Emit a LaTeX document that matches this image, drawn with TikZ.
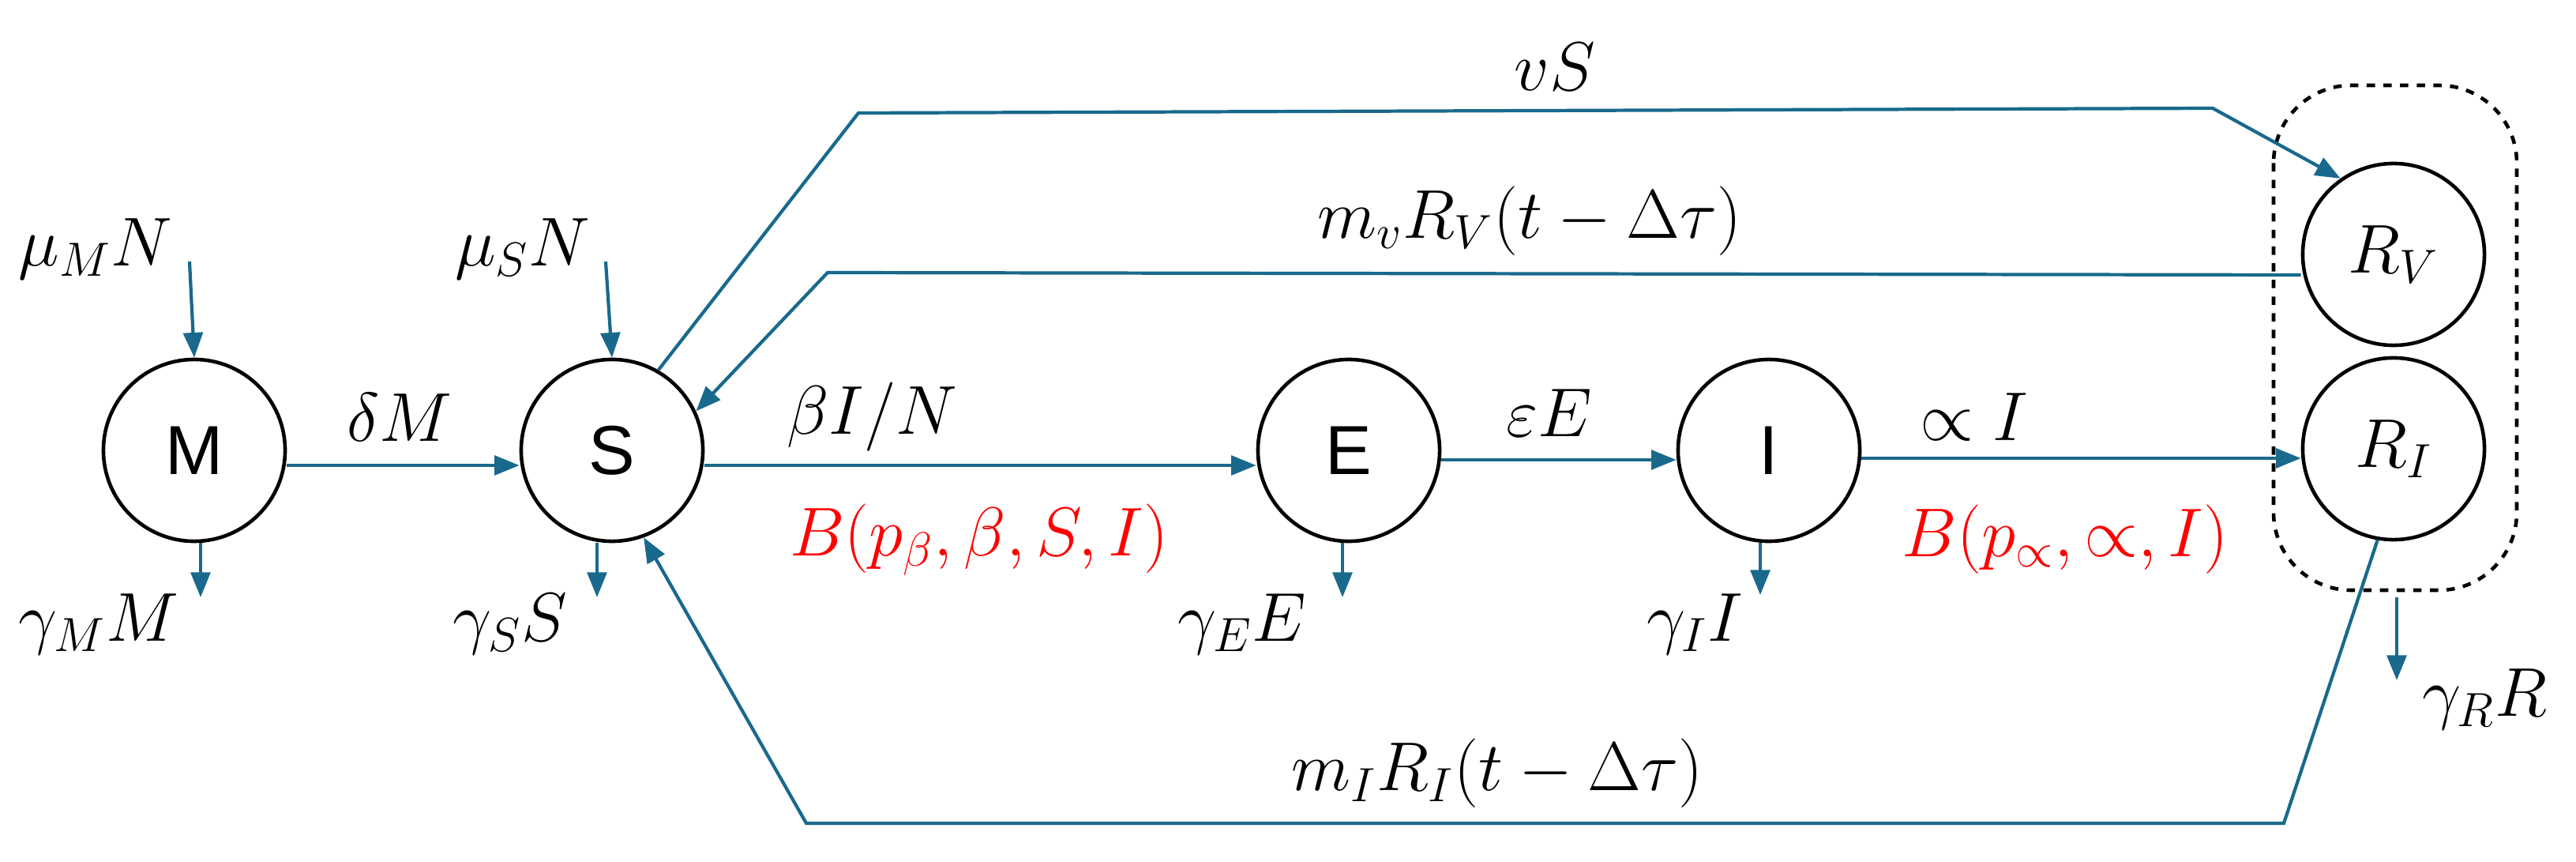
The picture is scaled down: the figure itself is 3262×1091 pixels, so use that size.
\documentclass[tikz,border=0pt]{standalone}
\usepackage{fontspec}
\setsansfont{Liberation Sans}
\usetikzlibrary{arrows.meta}
\definecolor{teal1}{RGB}{25,105,140}
\begin{document}
\begin{tikzpicture}[x=0.01cm,y=-0.01cm,
  circ/.style={circle,draw,line width=1.3pt,minimum size=2.3cm,inner sep=0pt,font=\sffamily\fontsize{25}{30}\selectfont},
  fl/.style={draw=teal1,line width=1.2pt,-{Triangle[length=9pt,width=7pt]}},
  lb/.style={font=\fontsize{24}{28}\selectfont},
  rl/.style={lb,text=red}]
\useasboundingbox (0,0) rectangle (3262,1091);
\node[circ] (M) at (246,570) {M};
\node[circ] (S) at (775,570) {S};
\node[circ] (E) at (1708,570) {E};
\node[circ] (I) at (2240,570) {I};
\node[circ,font=\fontsize{25}{30}\selectfont] (RV) at (3031,322) {$R_V$};
\node[circ,font=\fontsize{25}{30}\selectfont] (RI) at (3031,568) {$R_I$};
\draw[dashed,line width=1.3pt,rounded corners=28] (2879,108) rectangle (3187,747);
% main flow
\draw[fl] (M.east |- 0,589) -- (S.west |- 0,589);
\draw[fl] (S.east |- 0,589) -- (E.west |- 0,589);
\draw[fl] (E.east |- 0,582) -- (I.west |- 0,582);
\draw[fl] (I.east |- 0,580) -- (RI.west |- 0,580);
% inflows
\coordinate (mi) at (240,331); \coordinate (si) at (767,331);
\draw[fl] (mi) -- (M.north);
\draw[fl] (si) -- (S.north);
% outflows
\coordinate (mo) at (254,756); \coordinate (so) at (756,756);
\coordinate (eo) at (1700,756); \coordinate (io) at (2229,753);
\coordinate (rs) at (3035,756); \coordinate (ro) at (3035,861);
\draw[fl] (M.south) ++(8,0) -- (mo);
\draw[fl] (S.south) ++(-19,0) -- (so);
\draw[fl] (E.south) ++(-8,0) -- (eo);
\draw[fl] (I.south) ++(-11,0) -- (io);
\draw[fl] (rs) -- (ro);
% feedback
\draw[fl] (S.60) -- (1087,143) -- (2802,137) -- (RV.125);
\draw[fl] (RV.180 |- 0,348) -- (1048,345) -- (S.25);
\draw[fl] (RI.-100) -- (2892,1042) -- (1021,1042) -- (S.-70);
% labels
\node[lb] at (1969,85) {$vS$};
\node[lb] at (1937,280) {$m_vR_V(t-\Delta\tau)$};
\node[lb] at (121,315) {$\mu_MN$};
\node[lb] at (662,315) {$\mu_SN$};
\node[lb] at (506,528) {$\delta M$};
\node[lb] at (1104,528) {$\beta I/N$};
\node[rl] at (1240,683) {$B(p_\beta,\beta,S,I)$};
\node[lb] at (1962,523) {$\varepsilon E$};
\node[lb] at (2500,528) {$\propto I$};
\node[rl] at (2615,683) {$B(p_\propto,\propto,I)$};
\node[lb] at (125,790) {$\gamma_MM$};
\node[lb] at (646,790) {$\gamma_SS$};
\node[lb] at (1573,790) {$\gamma_EE$};
\node[lb] at (2146,790) {$\gamma_II$};
\node[lb] at (3146,885) {$\gamma_RR$};
\node[lb] at (1896,979) {$m_IR_I(t-\Delta\tau)$};
\end{tikzpicture}
\end{document}
